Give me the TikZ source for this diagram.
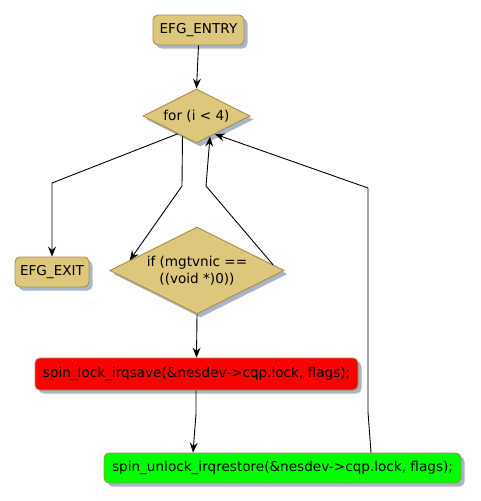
\documentclass[tikz,border=0pt]{standalone}
\usepackage{fontspec}
\setmainfont{DejaVu Sans}
\usetikzlibrary{shapes.geometric,shadows,arrows.meta,calc}
\definecolor{tanfill}{HTML}{DCC77C}
\definecolor{tanline}{HTML}{A68F48}
\definecolor{shadowc}{HTML}{A9B5CB}
\definecolor{redfill}{HTML}{FF0000}
\definecolor{greenfill}{HTML}{00FF00}
\tikzset{
  base/.style={draw=tanline, line width=0.9pt, font=\fontsize{13.6}{16.5}\selectfont,
    drop shadow={shadow xshift=3.5pt, shadow yshift=-3.5pt, fill=shadowc, opacity=1}},
  box/.style={base, rectangle, rounded corners=5pt, fill=tanfill, inner xsep=3pt, inner ysep=0pt, minimum height=30pt},
  dia/.style={base, diamond, aspect=2, fill=tanfill, inner sep=0pt, align=center},
  conn/.style={line width=0.9pt, -{Stealth[length=10pt,width=8pt,inset=3.5pt]}}
}
\begin{document}
\begin{tikzpicture}[x=1pt,y=-1pt]
\useasboundingbox (0,0) rectangle (480,501);
\node[box, minimum width=91pt] (entry) at (198.5,30) {EFG\_ENTRY};
\node[dia, minimum width=107pt, minimum height=54pt] (for) at (196.5,116) {for (i < 4)};
\node[box, minimum width=74pt] (exit) at (52,272) {EFG\_EXIT};
\node[dia, minimum width=174pt, minimum height=87pt] (if) at (197,270.5) {if (mgtvnic ==\\((void *)0))};
\node[box, fill=redfill, minimum width=323pt, minimum height=32pt] (lock) at (196.5,374) {spin\_lock\_irqsave(\&nesdev->cqp.lock, flags);};
\node[box, fill=greenfill, minimum width=357pt] (unlock) at (282.5,468) {spin\_unlock\_irqrestore(\&nesdev->cqp.lock, flags);};

\coordinate (b1) at (52,183);
\coordinate (b2) at (182,186);
\coordinate (b3) at (206,186);
\coordinate (b4) at (196,414);
\coordinate (b5) at (368,412);
\coordinate (b6) at (368,188);

\draw[conn] (entry.south) -- (for.north);
\draw[conn] ($(for.south)!0.35!(for.west)$) -- (b1) -- (exit.north);
\draw[conn] ($(for.south)!0.26!(for.west)$) -- (b2) -- ($(if.north)!0.77!(if.west)$);
\draw[conn] ($(if.north)!0.87!(if.east)$) -- (b3) -- ($(for.south)!0.25!(for.east)$);
\draw[conn] (if.south) -- (lock.north);
\draw[conn] (lock.south -| b4) -- (b4) -- (unlock.north -| 193,0);
\draw[conn] (unlock.north -| 371,0) -- (b5) -- (b6) -- ($(for.south)!0.34!(for.east)$);
\end{tikzpicture}
\end{document}
